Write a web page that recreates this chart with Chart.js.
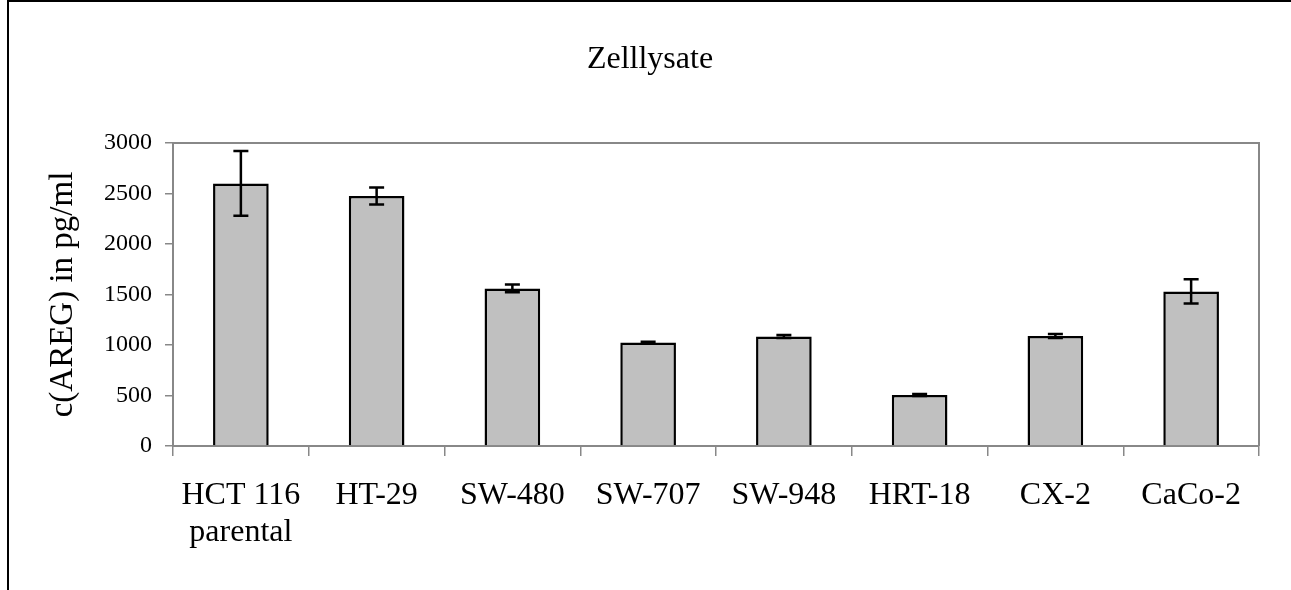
<!DOCTYPE html>
<html>
<head>
<meta charset="utf-8">
<script src="https://cdn.jsdelivr.net/npm/chart.js@4/dist/chart.umd.min.js"></script>
<style>
  html, body { margin: 0; padding: 0; background: #fff; }
  #wrap { position: relative; width: 1291px; height: 590px; overflow: hidden; }
  #frame { position: absolute; left: 7px; top: 0; width: 1400px; height: 700px;
           border-left: 2px solid #000; border-top: 2px solid #000; pointer-events: none; }
  canvas { position: absolute; left: 0; top: 0; }
</style>
</head>
<body>
<div id="wrap">
  <canvas id="c" width="1291" height="590"></canvas>
  <div id="frame"></div>
</div>
<script>
const categories = [["HCT 116", "parental"], "HT-29", "SW-480", "SW-707", "SW-948", "HRT-18", "CX-2", "CaCo-2"];
const values = [2600, 2475, 1560, 1025, 1085, 505, 1090, 1530];
const errors = [320, 85, 38, 8, 15, 10, 20, 120];
const yTicks = [0, 500, 1000, 1500, 2000, 2500, 3000];
const chartTitle = "Zelllysate";
const yTitle = "c(AREG) in pg/ml";

const FONT = "'Liberation Serif', 'Times New Roman', serif";

const errorBarPlugin = {
  id: 'errorBars',
  afterDatasetsDraw(chart) {
    const ctx = chart.ctx;
    const meta = chart.getDatasetMeta(0);
    const y = chart.scales.y;
    ctx.save();
    ctx.strokeStyle = '#000';
    ctx.lineWidth = 2.5;
    meta.data.forEach((bar, i) => {
      const x = bar.x;
      const top = y.getPixelForValue(values[i] + errors[i]);
      const bot = y.getPixelForValue(values[i] - errors[i]);
      const hw = 7.5;
      ctx.beginPath();
      ctx.moveTo(x, top); ctx.lineTo(x, bot);
      ctx.moveTo(x - hw, top); ctx.lineTo(x + hw, top);
      ctx.moveTo(x - hw, bot); ctx.lineTo(x + hw, bot);
      ctx.stroke();
    });
    ctx.restore();
  }
};

const plotFramePlugin = {
  id: 'plotFrame',
  beforeDatasetsDraw(chart) {
    const a = chart.chartArea;
    const ctx = chart.ctx;
    ctx.save();
    ctx.strokeStyle = '#888';
    ctx.lineWidth = 2;
    ctx.beginPath();
    ctx.moveTo(a.left, a.top); ctx.lineTo(a.right, a.top); ctx.lineTo(a.right, a.bottom);
    ctx.stroke();
    ctx.restore();
  }
};

new Chart(document.getElementById('c'), {
  type: 'bar',
  data: {
    labels: categories,
    datasets: [{
      data: values,
      backgroundColor: '#c0c0c0',
      borderColor: '#000',
      borderWidth: 2.5,
      borderSkipped: 'bottom',
      barPercentage: 0.41,
      categoryPercentage: 1.0
    }]
  },
  options: {
    responsive: false,
    animation: false,
    devicePixelRatio: 1,
    layout: { padding: { left: 41, right: 32, top: 0, bottom: 0 } },
    plugins: {
      legend: { display: false },
      tooltip: { enabled: false },
      title: {
        display: true,
        text: chartTitle,
        color: '#000',
        font: { family: FONT, size: 32, weight: 'normal', lineHeight: 1.2 },
        padding: { top: 40, bottom: 64.6 }
      }
    },
    scales: {
      x: {
        offset: true,
        grid: { display: true, drawOnChartArea: false, drawTicks: true, tickLength: 10, offset: true, color: '#888', lineWidth: 1.5 },
        border: { display: true, color: '#888', width: 2 },
        ticks: { color: '#000', font: { family: FONT, size: 32, lineHeight: 1.13 }, padding: 22, maxRotation: 0, autoSkip: false },
        afterFit(scale) { scale.height = 144; }
      },
      y: {
        min: 0, max: 3000,
        afterBuildTicks(scale) { scale.ticks = yTicks.map(v => ({ value: v })); },
        grid: { display: true, drawOnChartArea: false, drawTicks: true, tickLength: 8, color: '#888', lineWidth: 1.5 },
        border: { display: true, color: '#888', width: 2 },
        ticks: { color: '#000', font: { family: FONT, size: 24 }, padding: 13, callback: (v) => String(v) },
        title: { display: true, text: yTitle, color: '#000', font: { family: FONT, size: 33, lineHeight: 1.2 }, padding: { top: 3, bottom: 0 } },
        afterFit(scale) { scale.width = 132; }
      }
    }
  },
  plugins: [errorBarPlugin, plotFramePlugin]
});
</script>
</body>
</html>
